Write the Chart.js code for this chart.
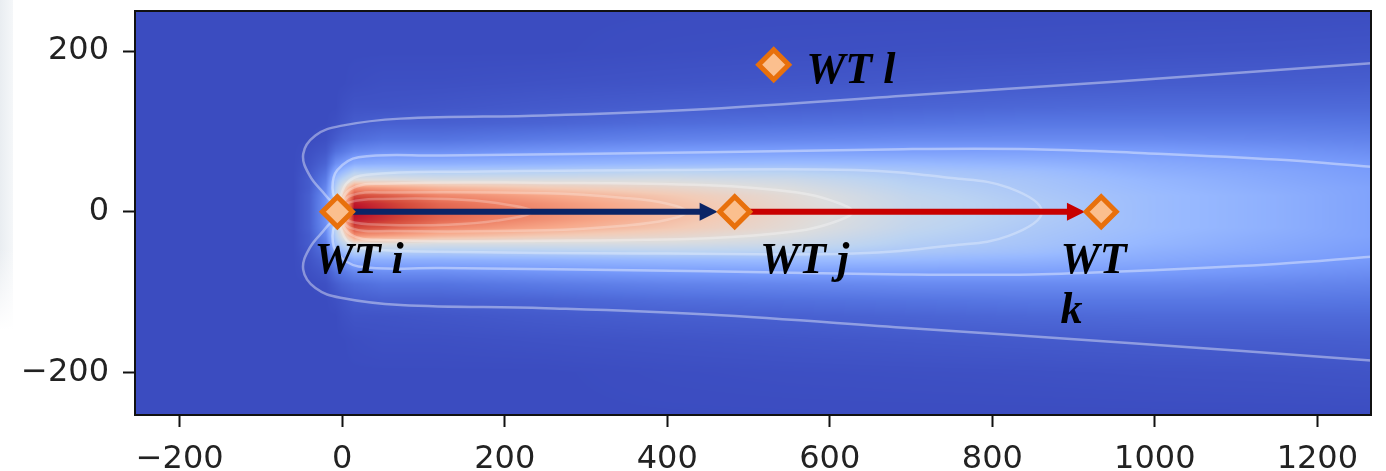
<!DOCTYPE html>
<html>
<head>
<meta charset="utf-8">
<title>Wake field</title>
<script src="https://cdn.jsdelivr.net/npm/chart.js@4.4.1/dist/chart.umd.min.js"></script>
<style>
  html, body { margin: 0; padding: 0; background: #fff; }
  #wrap { position: relative; width: 1386px; height: 471px; }
  #edge { position: absolute; left: 0; top: 0; width: 13px; height: 330px;
          background: linear-gradient(to bottom, rgba(255,255,255,0) 75%, #fff 100%),
                      linear-gradient(to right, #e9edf1, #f5f7f9); }
</style>
</head>
<body>
<div id="wrap"><div id="edge"></div><canvas id="c"></canvas></div>
<script>
  "use strict";

  // axes
  const xMin = -255, xMax = 1266;
  const yMin = -253, yMax = 250;
  const xTicks = [-200, 0, 200, 400, 600, 800, 1000, 1200];
  const yTicks = [-200, 0, 200];

  // turbines
  const turbineX = [-6, 483, 934, 531];
  const turbineY = [0, 0, 0, 183];

  // labels (anchor = left end of baseline)
  const labelText = ['WT i', 'WT j', ['WT', 'k'], 'WT l'];
  const labelX = [-34, 514, 884, 571];
  const labelY = [-76, -76, -76, 160];

  // arrows i -> j, j -> k (tip at the next marker's edge)
  const arrowFromX = [-6, 483];
  const arrowToX = [462, 914];

  // wake field, coolwarm value 0..1, at downstream stations x and lateral offsets |y|
  const fieldX = [-60, -40, -20, -8, 0, 15, 50, 120, 250, 400, 550, 700, 850, 1000, 1150, 1270];
  const fieldOffsets = [0, 10, 20, 30, 40, 50, 60, 75, 90, 110, 130, 160, 200, 260];
  const fieldRows = [
    [0, 0, 0, 0, 0, 0, 0, 0, 0, 0, 0, 0, 0, 0],
    [0.05, 0.05, 0.05, 0.04, 0.04, 0.03, 0.02, 0.01, 0, 0, 0, 0, 0, 0],
    [0.18, 0.18, 0.17, 0.15, 0.12, 0.09, 0.06, 0.03, 0.01, 0, 0, 0, 0, 0],
    [0.42, 0.42, 0.41, 0.38, 0.33, 0.25, 0.17, 0.09, 0.04, 0.01, 0, 0, 0, 0],
    [0.6, 0.6, 0.58, 0.5, 0.4, 0.3, 0.2, 0.11, 0.06, 0.02, 0.01, 0, 0, 0],
    [1.0, 0.97, 0.9, 0.75, 0.5, 0.38, 0.26, 0.15, 0.08, 0.04, 0.02, 0.005, 0, 0],
    [0.95, 0.93, 0.87, 0.72, 0.5, 0.38, 0.27, 0.17, 0.1, 0.05, 0.02, 0.01, 0, 0],
    [0.86, 0.84, 0.78, 0.66, 0.48, 0.37, 0.27, 0.17, 0.1, 0.05, 0.025, 0.01, 0, 0],
    [0.77, 0.75, 0.7, 0.6, 0.48, 0.38, 0.28, 0.19, 0.12, 0.06, 0.035, 0.015, 0, 0],
    [0.65, 0.64, 0.61, 0.55, 0.48, 0.4, 0.3, 0.21, 0.14, 0.08, 0.045, 0.02, 0.005, 0],
    [0.54, 0.53, 0.52, 0.49, 0.45, 0.39, 0.31, 0.22, 0.15, 0.09, 0.05, 0.025, 0.008, 0],
    [0.43, 0.43, 0.42, 0.4, 0.38, 0.35, 0.3, 0.22, 0.16, 0.1, 0.06, 0.03, 0.01, 0],
    [0.37, 0.37, 0.36, 0.35, 0.34, 0.32, 0.28, 0.22, 0.16, 0.11, 0.07, 0.035, 0.012, 0],
    [0.31, 0.31, 0.31, 0.3, 0.29, 0.27, 0.25, 0.21, 0.16, 0.11, 0.075, 0.04, 0.015, 0],
    [0.27, 0.27, 0.27, 0.26, 0.25, 0.24, 0.22, 0.19, 0.15, 0.11, 0.075, 0.042, 0.017, 0],
    [0.23, 0.23, 0.23, 0.23, 0.22, 0.21, 0.2, 0.17, 0.14, 0.105, 0.075, 0.045, 0.02, 0]
  ];

  // contour lines, upper half (lower half is the mirror image)
  const outerX = [1266, 950, 700, 450, 250, 72, -2, -33, -48, -40, -20, -6];
  const outerY = [185, 162, 145, 128, 120, 116, 107, 95, 72, 45, 20, 0];
  const middleX = [1266, 1150, 988, 850, 690, 450, 122, 20, -6, -12, -6];
  const middleY = [56, 65, 73, 78, 78, 74, 70, 68, 52, 30, 0];
  const c4X = [-6, 5, 30, 150, 400, 630, 750, 820, 861];
  const c4Y = [0, 35, 46, 50, 52, 52, 42, 30, 0];
  const c3X = [-6, 10, 50, 250, 450, 560, 605, 628];
  const c3Y = [0, 28, 35, 36, 33, 24, 13, 0];
  const c2X = [-6, 10, 60, 250, 350, 400, 424];
  const c2Y = [0, 20, 24, 23, 17, 10, 0];
  const c1X = [-6, 10, 50, 130, 190, 234];
  const c1Y = [0, 12, 16, 16, 11, 0];

  const coolwarm = [
    [59, 76, 192], [85, 116, 225], [118, 153, 250], [152, 185, 255], [187, 211, 242],
    [221, 221, 221], [243, 203, 182], [247, 167, 137], [236, 124, 97], [212, 73, 58], [180, 4, 38]
  ];

  function colorOf(v) {
    v = Math.max(0, Math.min(1, v)) * (coolwarm.length - 1);
    const k = Math.min(Math.floor(v), coolwarm.length - 2);
    const t = v - k, a = coolwarm[k], b = coolwarm[k + 1];
    return [a[0] + (b[0] - a[0]) * t, a[1] + (b[1] - a[1]) * t, a[2] + (b[2] - a[2]) * t];
  }

  function rowAt(dx) {
    const n = fieldX.length;
    if (dx <= fieldX[0]) return fieldRows[0];
    if (dx >= fieldX[n - 1]) return fieldRows[n - 1];
    let k = 0;
    while (fieldX[k + 1] < dx) k++;
    const t = (dx - fieldX[k]) / (fieldX[k + 1] - fieldX[k]);
    return fieldRows[k].map((v, i) => v + (fieldRows[k + 1][i] - v) * t);
  }

  function valueAt(row, dy) {
    const n = fieldOffsets.length;
    if (dy >= fieldOffsets[n - 1]) return row[n - 1];
    let k = 0;
    while (fieldOffsets[k + 1] < dy) k++;
    const t = (dy - fieldOffsets[k]) / (fieldOffsets[k + 1] - fieldOffsets[k]);
    return row[k] + (row[k + 1] - row[k]) * t;
  }

  function loop(xs, ys) {
    const upper = xs.map((x, i) => ({ x: x, y: ys[i] }));
    const lower = xs.map((x, i) => ({ x: x, y: -ys[i] })).reverse().slice(1);
    return upper.concat(lower);
  }

  const fieldPlugin = {
    id: 'wakeField',
    beforeDatasetsDraw(chart) {
      const { ctx, chartArea: a, scales: { x, y } } = chart;
      const w = Math.round(a.right - a.left), h = Math.round(a.bottom - a.top);
      const off = document.createElement('canvas');
      off.width = w; off.height = h;
      const octx = off.getContext('2d');
      const img = octx.createImageData(w, h);
      for (let i = 0; i < w; i++) {
        const row = rowAt(x.getValueForPixel(a.left + i + 0.5));
        for (let j = 0; j < h; j++) {
          const c = colorOf(valueAt(row, Math.abs(y.getValueForPixel(a.top + j + 0.5))));
          const p = (j * w + i) * 4;
          img.data[p] = c[0]; img.data[p + 1] = c[1]; img.data[p + 2] = c[2]; img.data[p + 3] = 255;
        }
      }
      octx.putImageData(img, 0, 0);
      ctx.drawImage(off, a.left, a.top);
    }
  };

  const HEAD_LEN = 18, HEAD_HALF = 9;
  const arrowPlugin = {
    id: 'arrowHeads',
    beforeDatasetDraw(chart, args) {
      const ds = chart.data.datasets[args.index];
      if (!ds.arrow) return;
      const a = chart.chartArea, ctx = chart.ctx;
      const tip = chart.scales.x.getPixelForValue(ds.data[1].x);
      ctx.save();
      ctx.beginPath();
      ctx.rect(a.left, a.top, tip - HEAD_LEN + 2 - a.left, a.bottom - a.top);
      ctx.clip();
    },
    afterDatasetDraw(chart, args) {
      const ds = chart.data.datasets[args.index];
      if (!ds.arrow) return;
      const ctx = chart.ctx;
      ctx.restore();
      const tx = chart.scales.x.getPixelForValue(ds.data[1].x);
      const ty = chart.scales.y.getPixelForValue(ds.data[1].y);
      ctx.save();
      ctx.fillStyle = ds.borderColor;
      ctx.beginPath();
      ctx.moveTo(tx, ty);
      ctx.lineTo(tx - HEAD_LEN, ty - HEAD_HALF);
      ctx.lineTo(tx - HEAD_LEN, ty + HEAD_HALF);
      ctx.closePath();
      ctx.fill();
      ctx.restore();
    }
  };

  const labelPlugin = {
    id: 'turbineLabels',
    afterDatasetsDraw(chart) {
      const ctx = chart.ctx;
      ctx.save();
      ctx.font = 'italic bold 44px "Liberation Serif", "DejaVu Serif", serif';
      ctx.fillStyle = '#000';
      ctx.textAlign = 'left';
      ctx.textBaseline = 'alphabetic';
      labelText.forEach((t, i) => {
        const px = chart.scales.x.getPixelForValue(labelX[i]);
        const py = chart.scales.y.getPixelForValue(labelY[i]);
        [].concat(t).forEach((line, k) => ctx.fillText(line, px, py + k * 50));
      });
      ctx.restore();
    },
    afterDraw(chart) {
      const { ctx, chartArea: a } = chart;
      ctx.save();
      ctx.strokeStyle = '#111';
      ctx.lineWidth = 2;
      ctx.strokeRect(a.left, a.top, a.right - a.left, a.bottom - a.top);
      ctx.restore();
    }
  };

  const contourLine = (data, alpha) => ({
    data: data, showLine: true, pointRadius: 0, tension: 0.4,
    borderColor: 'rgba(255,255,255,' + alpha + ')', borderWidth: 2.5, order: 3
  });

  const fmt = v => (v < 0 ? '\u2212' + Math.abs(v) : String(v));

  new Chart(document.getElementById('c'), {
    type: 'scatter',
    data: {
      datasets: [
        {
          data: turbineX.map((x, i) => ({ x: x, y: turbineY[i] })),
          pointStyle: 'rectRot', pointRadius: 15, pointHoverRadius: 15,
          backgroundColor: '#fbbf8e', borderColor: '#e8700c', borderWidth: 5, order: 0
        },
        {
          data: [{ x: arrowFromX[0], y: 0 }, { x: arrowToX[0], y: 0 }], arrow: true,
          showLine: true, pointRadius: 0, borderColor: '#0b2466', borderWidth: 6, order: 1
        },
        {
          data: [{ x: arrowFromX[1], y: 0 }, { x: arrowToX[1], y: 0 }], arrow: true,
          showLine: true, pointRadius: 0, borderColor: '#c80000', borderWidth: 6, order: 1
        },
        contourLine(loop(outerX, outerY), 0.4),
        contourLine(loop(middleX, middleY), 0.4),
        contourLine(loop(c4X, c4Y), 0.3),
        contourLine(loop(c3X, c3Y), 0.3),
        contourLine(loop(c2X, c2Y), 0.25),
        contourLine(loop(c1X, c1Y), 0.25)
      ]
    },
    options: {
      responsive: true,
      maintainAspectRatio: false,
      animation: false,
      events: [],
      layout: { autoPadding: false, padding: { top: 11, right: 15, left: 0, bottom: 0 } },
      plugins: { legend: { display: false }, tooltip: { enabled: false } },
      scales: {
        x: {
          type: 'linear', min: xMin, max: xMax,
          afterBuildTicks: s => { s.ticks = xTicks.map(v => ({ value: v })); },
          afterFit: s => { s.height = 56; s.paddingLeft = 0; s.paddingRight = 0; },
          grid: { drawOnChartArea: false, drawTicks: true, tickLength: 12, tickWidth: 2, tickColor: '#111' },
          border: { display: true, color: '#111', width: 2 },
          ticks: { autoSkip: false, maxRotation: 0, padding: 13, color: '#222',
                   font: { family: 'DejaVu Sans', size: 32 }, callback: fmt }
        },
        y: {
          type: 'linear', min: yMin, max: yMax,
          afterBuildTicks: s => { s.ticks = yTicks.map(v => ({ value: v })); },
          afterFit: s => { s.width = 135; s.paddingTop = 0; s.paddingBottom = 0; },
          grid: { drawOnChartArea: false, drawTicks: true, tickLength: 12, tickWidth: 2, tickColor: '#111' },
          border: { display: true, color: '#111', width: 2 },
          ticks: { autoSkip: false, padding: 14, color: '#222',
                   font: { family: 'DejaVu Sans', size: 32 }, callback: fmt }
        }
      }
    },
    plugins: [fieldPlugin, arrowPlugin, labelPlugin]
  });
</script>
</body>
</html>
